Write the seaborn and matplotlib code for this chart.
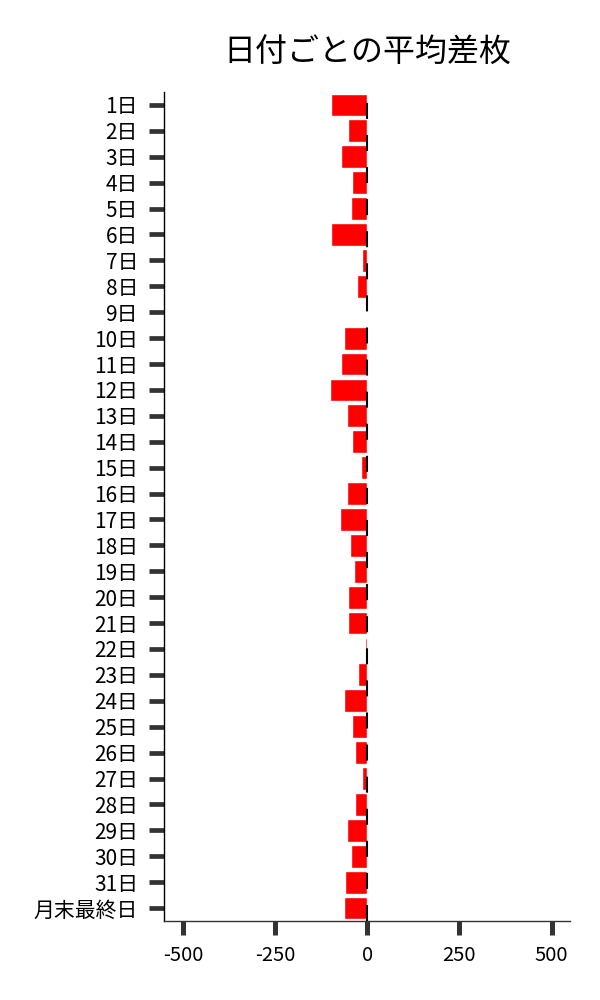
import pandas as pd
import matplotlib
matplotlib.use("Agg")
import matplotlib.pyplot as plt
import seaborn as sns

# =====================
# DATA
# =====================
days = [f"{d}日" for d in range(1, 32)] + ["月末最終日"]
avg_diff = [-98, -51, -72, -40, -43, -98, -15, -29, -1, -62,
            -70, -102, -56, -40, -18, -56, -75, -48, -37, -53,
            -51, -7, -24, -64, -40, -32, -15, -34, -56, -43,
            -59, -62]
title = "日付ごとの平均差枚"

df = pd.DataFrame({"day": days, "diff": avg_diff})

# =====================
# STYLE
# =====================
sns.set_style("ticks")
plt.rcParams['font.family'] = ['Noto Sans CJK JP', 'DejaVu Sans']
plt.rcParams['axes.unicode_minus'] = False

fig = plt.figure(figsize=(6, 10), dpi=100)
ax = fig.add_axes([0.274, 0.079, 0.676, 0.829])

sns.barplot(data=df, x="diff", y="day", orient="h", color="#ff0000",
            saturation=1, width=0.88, ax=ax)

# zero reference line, drawn over the bars
ax.axvline(0, color="black", lw=1.5, linestyle=(0, (7.7, 7.7)), zorder=3)

ax.set_xlim(-550, 550)
ax.set_xticks([-500, -250, 0, 250, 500])
ax.set_xlabel("")
ax.set_ylabel("")
ax.set_title(title, fontsize=23, pad=22, color="black")

ax.tick_params(axis="y", length=11, width=3.4, color="#333333", pad=8,
               labelsize=15, labelcolor="black")
ax.tick_params(axis="x", length=10, width=3.6, color="#333333", pad=7,
               labelsize=14.5, labelcolor="black")

sns.despine(ax=ax)
ax.spines["left"].set_color("black")
ax.spines["left"].set_linewidth(1.0)
ax.spines["bottom"].set_color("#333333")
ax.spines["bottom"].set_linewidth(1.0)

fig.savefig("out.png", dpi=100)
